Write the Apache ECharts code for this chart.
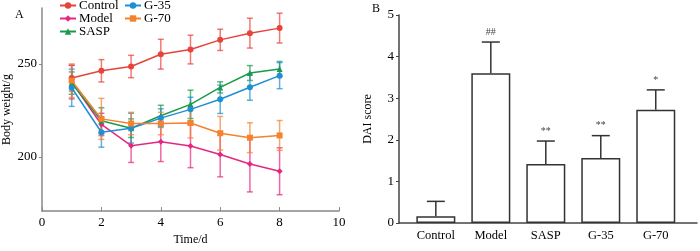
<!DOCTYPE html>
<html><head><meta charset="utf-8">
<script src="https://cdn.jsdelivr.net/npm/echarts@6/dist/echarts.min.js"></script>
<style>html,body{margin:0;padding:0;background:#fff}#c{width:700px;height:251px}</style>
</head><body><div id="c"></div>
<script>
const days = [1, 2, 3, 4, 5, 6, 7, 8];
const controlMean = [242.4, 246.3, 248.6, 255.2, 257.7, 262.9, 266.5, 269.2];
const controlSD   = [7, 6, 6, 8, 7.7, 5.7, 8, 8];
const modelMean   = [240.2, 217.5, 206.1, 208.2, 205.9, 201.4, 196.3, 192.4];
const modelSD     = [9, 6, 9, 10.6, 11.6, 12, 15, 12.6];
const saspMean    = [239.7, 219.5, 215.5, 222.2, 228.3, 237.4, 245.1, 247.3];
const saspSD      = [6, 7, 5, 5.6, 7.6, 3, 4, 4];
const g35Mean     = [237.2, 213.3, 215.5, 220.9, 225.6, 231, 237.5, 243.7];
const g35SD       = [10, 8, 8, 5, 6.5, 7.6, 7, 7];
const g70Mean     = [241, 220.5, 218, 218, 218.3, 212.8, 210.4, 211.6];
const g70SD       = [9, 11, 6, 6, 8, 9, 8, 8];
const seriesNames = ['Control', 'Model', 'SASP', 'G-35', 'G-70'];

const groups = ['Control', 'Model', 'SASP', 'G-35', 'G-70'];
const dai    = [0.16, 3.6, 1.42, 1.56, 2.72];
const daiErr = [0.36, 0.75, 0.55, 0.54, 0.48];
const sig    = ['', '##', '**', '**', '*'];

const FONT = 'Liberation Serif';
const colors = ['#e8433a', '#e5287f', '#1a9a4a', '#1f8fd1', '#f4822f'];
const symbols = ['circle', 'diamond', 'triangle', 'circle', 'rect'];
const means = [controlMean, modelMean, saspMean, g35Mean, g70Mean];
const sds = [controlSD, modelSD, saspSD, g35SD, g70SD];

const chart = echarts.init(document.getElementById('c'));
const series = [];
seriesNames.forEach((name, k) => {
  series.push({
    name, type: 'line', xAxisIndex: 0, yAxisIndex: 0,
    data: days.map((d, i) => [d, means[k][i]]),
    symbol: symbols[k], symbolSize: 6, color: colors[k],
    lineStyle: { width: 1.5, color: colors[k] }, itemStyle: { color: colors[k] }, z: 3
  });
  series.push({
    type: 'custom', xAxisIndex: 0, yAxisIndex: 0, z: 2,
    data: days.map((d, i) => [d, means[k][i], sds[k][i]]),
    encode: { x: 0, y: 1 },
    renderItem: (params, api) => {
      const x = api.value(0), m = api.value(1), s = api.value(2);
      const t = api.coord([x, m + s]), b = api.coord([x, m - s]);
      const st = { stroke: colors[k], lineWidth: 1.5, opacity: 0.7 };
      return { type: 'group', children: [
        { type: 'line', shape: { x1: t[0], y1: t[1], x2: b[0], y2: b[1] }, style: st },
        { type: 'line', shape: { x1: t[0] - 3, y1: t[1], x2: t[0] + 3, y2: t[1] }, style: st },
        { type: 'line', shape: { x1: b[0] - 3, y1: b[1], x2: b[0] + 3, y2: b[1] }, style: st }
      ]};
    }
  });
});
series.push({
  type: 'bar', xAxisIndex: 1, yAxisIndex: 1, barWidth: 39,
  data: dai.map((v, i) => [i + 1, v]),
  itemStyle: { color: '#fff', borderColor: '#333', borderWidth: 1.5 }, z: 2
});
series.push({
  type: 'custom', xAxisIndex: 1, yAxisIndex: 1, z: 3,
  data: dai.map((v, i) => [i + 1, v, daiErr[i]]),
  encode: { x: 0, y: 1 },
  renderItem: (params, api) => {
    const x = api.value(0), v = api.value(1), e = api.value(2);
    const b = api.coord([x, v]), t = api.coord([x, v + e]);
    const st = { stroke: '#333', lineWidth: 1.5 };
    return { type: 'group', children: [
      { type: 'line', shape: { x1: b[0], y1: b[1], x2: t[0], y2: t[1] }, style: st },
      { type: 'line', shape: { x1: t[0] - 9, y1: t[1], x2: t[0] + 9, y2: t[1] }, style: st },
      { type: 'text', x: t[0], y: t[1] - 5, style: { text: sig[params.dataIndex], fill: '#444',
        font: '10px "' + FONT + '"', align: 'center', verticalAlign: 'bottom' } }
    ]};
  }
});

const legendCommon = {
  orient: 'vertical', itemGap: 0, itemWidth: 16, itemHeight: 8, padding: 0,
  textStyle: { fontFamily: FONT, fontSize: 13, color: '#000', lineHeight: 13, padding: [0, 0, 0, -2] }
};

chart.setOption({
  animation: false,
  textStyle: { fontFamily: FONT },
  legend: [
    Object.assign({ data: ['Control', 'Model', 'SASP'], left: 59, top: -1 }, legendCommon),
    Object.assign({ data: ['G-35', 'G-70'], left: 124, top: -1 }, legendCommon)
  ],
  grid: [
    { left: 40, right: 361, top: 8, bottom: 27 },
    { left: 399, right: 3, top: 15, bottom: 28 }
  ],
  xAxis: [
    { type: 'value', gridIndex: 0, min: 0, max: 10, interval: 2,
      name: 'Time/d', nameLocation: 'middle', nameGap: 17,
      nameTextStyle: { fontFamily: FONT, fontSize: 12, color: '#000' },
      axisLine: { lineStyle: { color: '#888', width: 1.5 } },
      axisTick: { inside: true, length: 4, lineStyle: { color: '#888' } },
      axisLabel: { fontFamily: FONT, fontSize: 13, color: '#000', margin: 5 },
      splitLine: { show: false } },
    { type: 'value', gridIndex: 1, min: 0.33, max: 5.75,
      axisLine: { lineStyle: { color: '#444', width: 1.5 } },
      axisTick: { show: false },
      axisLabel: { customValues: [1, 2, 3, 4, 5], formatter: v => groups[Math.round(v) - 1],
        fontFamily: FONT, fontSize: 12.5, color: '#000', margin: 6 },
      splitLine: { show: false } }
  ],
  yAxis: [
    { type: 'value', gridIndex: 0, min: 171, max: 280,
      name: 'Body weight/g', nameLocation: 'middle', nameGap: 29,
      nameTextStyle: { fontFamily: FONT, fontSize: 12, color: '#000' },
      axisLine: { show: true, lineStyle: { color: '#888', width: 1.5 } },
      axisTick: { show: true, length: 3, customValues: [200, 250], lineStyle: { color: '#888' } },
      axisLabel: { customValues: [200, 250], fontFamily: FONT, fontSize: 13, color: '#000', margin: 5 },
      splitLine: { show: false } },
    { type: 'value', gridIndex: 1, min: 0, max: 5, interval: 1,
      name: 'DAI score', nameLocation: 'middle', nameGap: 25,
      nameTextStyle: { fontFamily: FONT, fontSize: 12, color: '#000' },
      axisLine: { show: true, lineStyle: { color: '#444', width: 1.5 } },
      axisTick: { show: true, length: 3, lineStyle: { color: '#444' } },
      axisLabel: { fontFamily: FONT, fontSize: 13, color: '#000', margin: 5 },
      splitLine: { show: false } }
  ],
  graphic: [
    { type: 'text', left: 15, top: 9, style: { text: 'A', font: '12px "' + FONT + '"', fill: '#000' } },
    { type: 'text', left: 372, top: 3, style: { text: 'B', font: '12px "' + FONT + '"', fill: '#000' } }
  ],
  series
});
</script></body></html>
